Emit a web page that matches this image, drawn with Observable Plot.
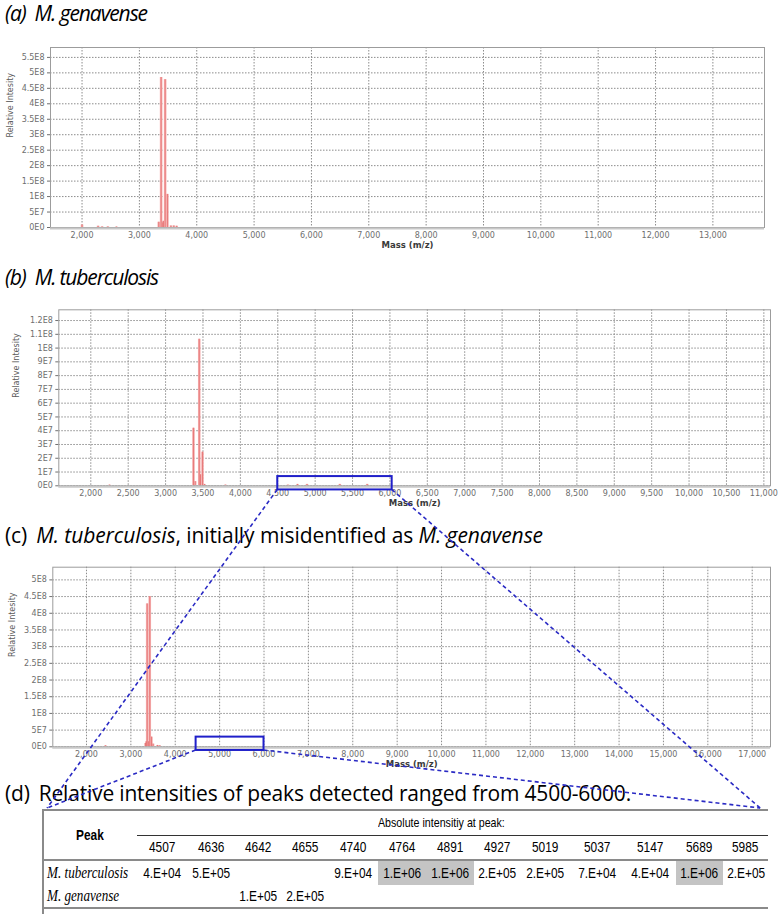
<!DOCTYPE html>
<html><head><meta charset="utf-8">
<script src="https://cdn.jsdelivr.net/npm/d3@7"></script>
<script src="https://cdn.jsdelivr.net/npm/@observablehq/plot@0.6"></script>
<style>
html,body{margin:0;padding:0;background:#fff;}
body{width:779px;height:914px;position:relative;overflow:hidden;font-family:"Open Sans",Lato,sans-serif;}
.title{position:absolute;left:5px;font-size:21px;line-height:20px;white-space:nowrap;color:#000;}
.gap{display:inline-block;width:9px;}
.panel{position:absolute;left:0;}
#overlay{position:absolute;left:0;top:0;width:779px;height:914px;pointer-events:none;z-index:5;}
#tbl{position:absolute;left:43px;top:809px;border-collapse:collapse;table-layout:fixed;width:725px;font-family:"Liberation Sans",Arial,sans-serif;}
#tbl td,#tbl th{padding:0;text-align:center;font-weight:normal;white-space:nowrap;overflow:visible;}
#tbl .s{display:inline-block;transform:scaleX(0.82);transform-origin:center;}
#tbl .sl{display:inline-block;transform:scaleX(0.82);transform-origin:left;}
#leftline{position:absolute;left:42px;top:809px;width:1.5px;height:105px;background:#8a8a8a;}
</style></head><body>
<div class="title" id="ta" style="top:3px" data-w="142"><i>(a)<span class="gap"></span>M. genavense</i></div>
<div class="title" id="tb" style="top:267px" data-w="153"><i>(b)<span class="gap"></span>M. tuberculosis</i></div>
<div class="title" id="tc" style="top:525px" data-w="538">(c)<span class="gap"></span><i>M. tuberculosis</i>, initially misidentified as <i>M. genavense</i></div>
<div class="title" id="td" style="top:783px" data-w="626">(d)<span class="gap"></span>Relative intensities of peaks detected ranged from 4500-6000.</div>
<div class="panel" id="pa" style="top:22px"></div>
<div class="panel" id="pb" style="top:285px"></div>
<div class="panel" id="pc" style="top:545px"></div>
<div id="leftline"></div>
<table id="tbl"></table>
<svg id="overlay"></svg>
<script>
// ---- Spectrum (a): M. genavense ----
const massA = [2000, 2280, 2350, 2450, 2600, 3338, 3379, 3408, 3418, 3449, 3489, 3550, 3600, 3650];
const intA  = [8e6, 4e6, 2e6, 2e6, 1.5e6, 1.7e7, 4.85e8, 1.5e7, 2e7, 4.78e8, 1.07e8, 5e6, 5e6, 4e6];
// ---- Spectrum (b): M. tuberculosis ----
const massB = [2250, 3373, 3396, 3450, 3467, 3494, 3520, 3800, 4636, 4764, 4891, 5330, 5696];
const intB  = [5e5, 4.18e7, 3e6, 1.064e8, 8e6, 2.44e7, 1e6, 5e5, 5e5, 1e6, 1e6, 1e6, 1e6];
// ---- Spectrum (c): M. tuberculosis, misidentified ----
const massC = [2428, 3330, 3350, 3368, 3400, 3426, 3464, 3500, 3600, 3650];
const intC  = [3e6, 1e7, 1.5e7, 4.28e8, 1.5e7, 4.5e8, 2.9e7, 8e6, 4e6, 3e6];

// ---- tick values ----
const xTicksA = [2000,3000,4000,5000,6000,7000,8000,9000,10000,11000,12000,13000];
const yTicksA = [0,5e7,1e8,1.5e8,2e8,2.5e8,3e8,3.5e8,4e8,4.5e8,5e8,5.5e8];
const xTicksB = [2000,2500,3000,3500,4000,4500,5000,5500,6000,6500,7000,7500,8000,8500,9000,9500,10000,10500,11000];
const yTicksB = [0,1e7,2e7,3e7,4e7,5e7,6e7,7e7,8e7,9e7,1e8,1.1e8,1.2e8];
const xTicksC = [2000,3000,4000,5000,6000,7000,8000,9000,10000,11000,12000,13000,14000,15000,16000,17000];
const yTicksC = [0,5e7,1e8,1.5e8,2e8,2.5e8,3e8,3.5e8,4e8,4.5e8,5e8];

// ---- zoom windows (m/z 4500-6000) ----
const zoomB = [{x1:4500, x2:6030, y1:-3e6, y2:6.7e6}];
const zoomC = [{x1:4470, x2:6000, y1:-1.1e7, y2:2.9e7}];

// ---- table (d) ----
const peakMasses = [4507,4636,4642,4655,4740,4764,4891,4927,5019,5037,5147,5689,5985];
const tbValues   = ["4.E+04","5.E+05","","","9.E+04","1.E+06","1.E+06","2.E+05","2.E+05","7.E+04","4.E+04","1.E+06","2.E+05"];
const genValues  = ["","","1.E+05","2.E+05","","","","","","","","",""];
const highlighted = [4764,4891,5689];
const rowLabels = ["M. tuberculosis","M. genavense"];

// fit the titles' widths via letter spacing
document.querySelectorAll(".title").forEach(el=>{
  const target = +el.dataset.w;
  const w = el.getBoundingClientRect().width;
  const n = el.textContent.length;
  el.style.letterSpacing = ((target - w) / n) + "px";
});

function eFormat(v){
  if (v === 0) return "0E0";
  const e = Math.floor(Math.log10(v) + 1e-9);
  const m = Math.round(v / 10**e * 10) / 10;
  return `${m}E${e}`;
}

function spectrum(o){
  const data = o.mass.map((m,i)=>({mass:m, inten:o.inten[i]}));
  return Plot.plot({
    width:779, height:o.height,
    marginTop:o.mt, marginBottom:o.mb, marginLeft:o.ml, marginRight:o.mr,
    style:{fontFamily:"DejaVu Sans", fontSize:"8px", color:"#6e6e6e", background:"transparent", overflow:"visible"},
    x:{domain:o.xDomain, ticks:o.xTicks, tickFormat:d3.format(","), tickSize:0, tickPadding:5, label:null},
    y:{domain:o.yDomain, ticks:o.yTicks, tickFormat:eFormat, tickSize:3, tickPadding:3, label:null},
    marks:[
      Plot.gridX(o.xTicks, {stroke:"#8c8c8c", strokeOpacity:1, strokeDasharray:"1.5,1.5"}),
      Plot.gridY(o.yTicks, {stroke:"#8c8c8c", strokeOpacity:1, strokeDasharray:"1.5,1.5"}),
      Plot.ruleX(data, {x:"mass", y1:0, y2:"inten", stroke:"#f5b0b0", strokeWidth:2.6}),
      Plot.ruleX(data, {x:"mass", y1:0, y2:"inten", stroke:"#e57373", strokeWidth:0.9}),
      Plot.frame({stroke:"#9c9c9c"}),
      Plot.ruleY([o.yDomain[0]], {stroke:"#c8c8c8", strokeWidth:2, dy:1}),
      Plot.rect(o.zoom, {x1:"x1", x2:"x2", y1:"y1", y2:"y2", stroke:"#1f1fc9", strokeWidth:2, fill:"none"}),
      Plot.text(["Mass (m/z)"], {text:d=>d, frameAnchor:"bottom", dy:20, fontWeight:"bold", fontSize:8.5, fill:"#3a3a3a"}),
      Plot.text(["Relative Intesity"], {text:d=>d, frameAnchor:"left", dx:o.ylabDx, rotate:-90, fontSize:8, fill:"#5a5a5a"})
    ]
  });
}

const plotA = spectrum({mass:massA, inten:intA, height:240, mt:25, mb:35, ml:50, mr:15,
  xDomain:[1450,13900], yDomain:[0,5.82e8], xTicks:xTicksA, yTicks:yTicksA, zoom:[], ylabDx:-40});
const plotB = spectrum({mass:massB, inten:intB, height:230, mt:24.3, mb:29.7, ml:58.3, mr:9,
  xDomain:[1572,11089], yDomain:[0,1.278e8], xTicks:xTicksB, yTicks:yTicksB, zoom:zoomB, ylabDx:-42.3});
const plotC = spectrum({mass:massC, inten:intC, height:230, mt:21.7, mb:28.7, ml:52.3, mr:9,
  xDomain:[1241,17412], yDomain:[0,5.38e8], xTicks:xTicksC, yTicks:yTicksC, zoom:zoomC, ylabDx:-40.3});
document.getElementById("pa").appendChild(plotA);
document.getElementById("pb").appendChild(plotB);
document.getElementById("pc").appendChild(plotC);

// ---- build table ----
const widths = [94,50,48,47,47,49,49,47,46,50,54,52,47,45];
const tbl = document.getElementById("tbl");
let html = "<colgroup>" + widths.map(w=>`<col style="width:${w}px">`).join("") + "</colgroup>";
html += `<tr style="height:25px;border-top:2px solid #8a8a8a"><th rowspan="2" style="font-weight:bold;font-size:14.5px;border-bottom:2px solid #8a8a8a;vertical-align:middle"><span class="s" style="font-weight:bold">Peak</span></th>`
     + `<th colspan="13" style="text-align:left;font-size:13px;border-bottom:1.5px solid #333;padding-left:241px"><span class="sl">Absolute intensitiy at peak:</span></th></tr>`;
html += `<tr style="height:25px;border-bottom:2px solid #8a8a8a">` + peakMasses.map(p=>`<td style="font-size:14.5px"><span class="s">${p}</span></td>`).join("") + `</tr>`;
html += `<tr style="height:25px"><td style="text-align:left;padding-left:4px;font-family:'Liberation Serif',serif;font-style:italic;font-size:16px"><span class="sl">${rowLabels[0]}</span></td>`
     + tbValues.map((v,i)=>`<td style="font-size:14.5px;${highlighted.includes(peakMasses[i])?"background:#c4c4c4":""}"><span class="s">${v}</span></td>`).join("") + `</tr>`;
html += `<tr style="height:23px;border-bottom:2px solid #8a8a8a"><td style="text-align:left;padding-left:4px;font-family:'Liberation Serif',serif;font-style:italic;font-size:16px"><span class="sl">${rowLabels[1]}</span></td>`
     + genValues.map(v=>`<td style="font-size:14.5px"><span class="s">${v}</span></td>`).join("") + `</tr>`;
tbl.innerHTML = html;

// ---- connector lines (from zoom windows to the table) ----
function corner(plot, z, which){
  const r = plot.getBoundingClientRect();
  const sx = plot.scale("x"), sy = plot.scale("y");
  return [r.left + sx.apply(which==="left"?z.x1:z.x2), r.top + sy.apply(z.y1)];
}
const tr = tbl.getBoundingClientRect();
const tl = [tr.left + 4, tr.top - 1], trr = [tr.right - 8, tr.top - 1];
const segs = [
  [corner(plotB, zoomB[0], "left"), tl],
  [corner(plotB, zoomB[0], "right"), trr],
  [corner(plotC, zoomC[0], "left"), tl],
  [corner(plotC, zoomC[0], "right"), trr]
];
d3.select("#overlay").selectAll("line").data(segs).join("line")
  .attr("x1",d=>d[0][0]).attr("y1",d=>d[0][1]).attr("x2",d=>d[1][0]).attr("y2",d=>d[1][1])
  .attr("stroke","#2a2ac4").attr("stroke-width",1.6).attr("stroke-dasharray","4,3");
</script>
</body></html>
